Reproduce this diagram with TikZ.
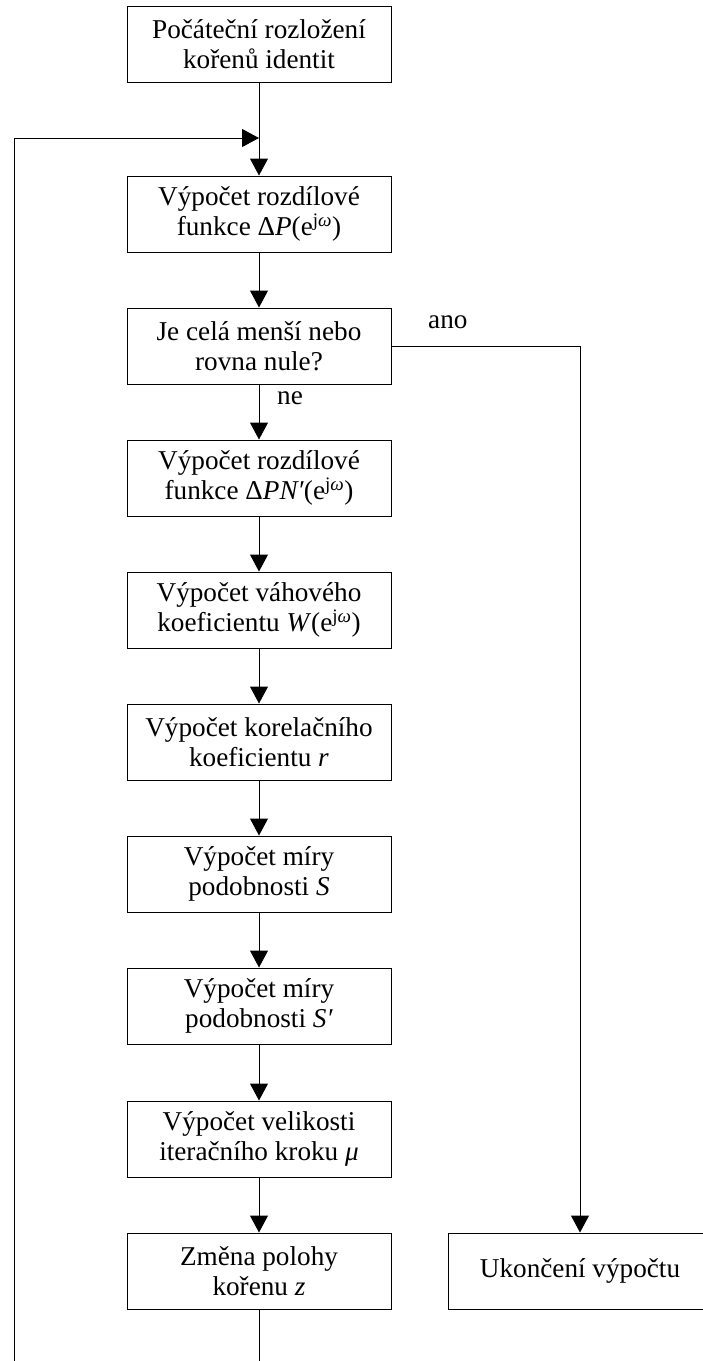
\documentclass[tikz,border=0pt]{standalone}
\usepackage{fontspec}
\setmainfont{Liberation Serif}
\usetikzlibrary{arrows.meta}
\begin{document}
\begin{tikzpicture}[x=1pt,y=-1pt,
  proc/.style={draw, line width=1pt, minimum width=264pt, minimum height=76pt, inner sep=0pt, align=center, font=\fontsize{27.2}{29.5}\selectfont},
  lbl/.style={inner sep=0pt, anchor=base west, font=\fontsize{27.2}{29.5}\selectfont},
  conn/.style={line width=1pt},
  arr/.style={line width=1pt, -{Triangle[length=17pt,width=18pt]}}]
\useasboundingbox (0,0) rectangle (703,1361);
\node[proc] (b1) at (259,44) {Počáteční rozložení\\kořenů identit};
\node[proc] (b2) at (259,214) {Výpočet rozdílové\\funkce Δ\textit{P}(e\textsuperscript{j\textit{ω}})};
\node[proc] (b3) at (259,346) {Je celá menší nebo\\rovna nule?};
\node[proc] (b4) at (259,478) {Výpočet rozdílové\\funkce Δ\textit{PN′}(e\textsuperscript{j\textit{ω}})};
\node[proc] (b5) at (259,610) {Výpočet váhového\\koeficientu \textit{W}(e\textsuperscript{j\textit{ω}})};
\node[proc] (b6) at (259,742) {Výpočet korelačního\\koeficientu \textit{r}};
\node[proc] (b7) at (259,874) {Výpočet míry\\podobnosti \textit{S}};
\node[proc] (b8) at (259,1006) {Výpočet míry\\podobnosti \textit{S′}};
\node[proc] (b9) at (259,1139) {Výpočet velikosti\\iteračního kroku \textit{μ}};
\node[proc] (b10) at (259,1271) {Změna polohy\\kořenu \textit{z}};
\node[proc] (end) at (580,1271) {Ukončení výpočtu};
\node[lbl] (ano) at (428,328) {ano};
\node[lbl] (ne) at (277,404) {ne};
\coordinate (join) at (259,138);
\coordinate (loopL) at (14,1361);
\coordinate (bot) at (259,1361);
\draw[arr] (b1) -- (b2);
\draw[arr] (loopL) |- (join);
\draw[arr] (b2) -- (b3);
\draw[arr] (b3) -- (b4);
\draw[arr] (b4) -- (b5);
\draw[arr] (b5) -- (b6);
\draw[arr] (b6) -- (b7);
\draw[arr] (b7) -- (b8);
\draw[arr] (b8) -- (b9);
\draw[arr] (b9) -- (b10);
\draw[arr] (b3.east) -| (end.north);
\draw[conn] (b10) -- (bot);
\end{tikzpicture}
\end{document}
